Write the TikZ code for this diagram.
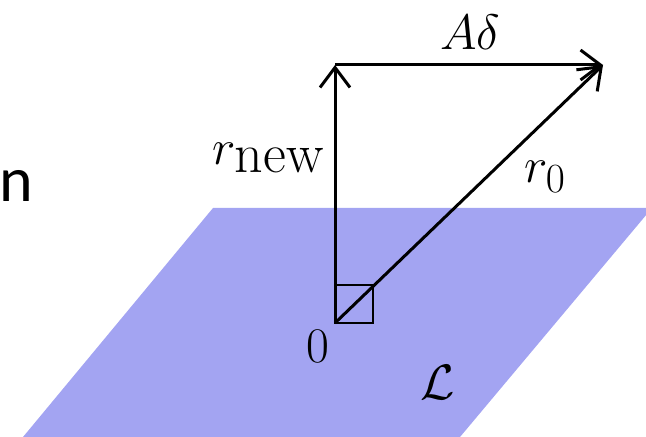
\documentclass[tikz,border=0pt]{standalone}
\usepackage{fontspec}
\usetikzlibrary{positioning,arrows.meta}
\newfontfamily\labelsans{Carlito}
\definecolor{Plane}{HTML}{A3A4F2}

\begin{document}
\begin{tikzpicture}[
  x=0.5pt, y=-0.5pt,
  vec/.style={-{Straight Barb[length=10pt,width=15pt,line width=1.5pt]}, line width=1.5pt},
  lbl/.style={font=\fontsize{28}{34}\selectfont, inner sep=0pt}
]
\useasboundingbox (0,0) rectangle (646,437);

% plane L
\fill[Plane] (213,208) -- (652,208) -- (460,437) -- (23,437) -- cycle;

\coordinate (o) at (335,323);
\coordinate (up) at (335,65);
\coordinate (tip) at (603,65);

% right angle mark
\draw[line width=0.8pt] (o) rectangle (373,285);

\draw[vec] (o) -- (up);
\draw[vec] (up) -- (tip);
\draw[vec] (o) -- (tip);

\node[lbl] (adelta) at (470,32) {$A\delta$};
\node[lbl, anchor=base east] (rnew) at (325,165) {$r_{\textstyle\mathrm{new}}$};
\node[lbl] (rzero) at (545,177) {$r_0$};
\node[lbl] (zero) at (318,346) {$0$};
\node[lbl, font=\fontsize{44}{50}\selectfont] (ell) at (438,382) {$\mathcal{L}$};
\node[font=\labelsans\fontsize{32}{38}\selectfont, inner sep=0pt, anchor=base west] (n) at (-1,202) {n};
\end{tikzpicture}
\end{document}
